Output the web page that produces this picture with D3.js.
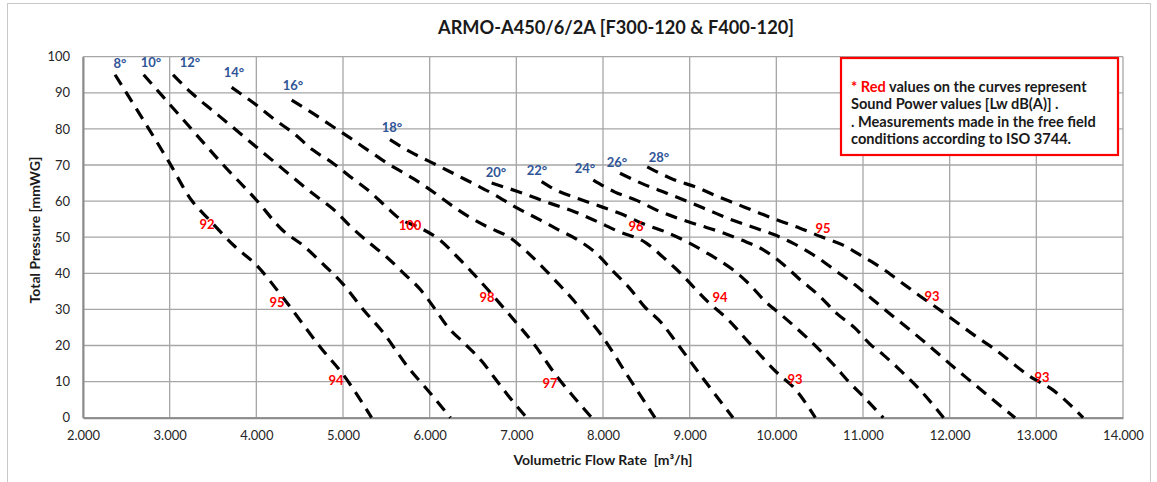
<!DOCTYPE html>
<html><head><meta charset="utf-8">
<script src="https://cdn.jsdelivr.net/npm/d3@7"></script>
<style>
body{margin:0;background:#fff;}
text{font-family:Lato,"Open Sans",sans-serif;}
</style></head>
<body><svg id="c" width="1157" height="482"></svg>
<script>
// ---- data (flow m3/h, pressure mmWG) ----
const angles = ["8°","10°","12°","14°","16°","18°","20°","22°","24°","26°","28°"];
const c08 = [[2370,95],[3000,70.5],[3250,60.3],[3450,55],[3750,47.5],[4000,42.3],[4300,33.5],[4750,19.2],[5000,12],[5330,0]];
const c10 = [[2700,95],[2920,89],[3250,80],[3600,70.5],[4000,60.3],[4300,52],[4550,47.5],[4750,43],[5000,37],[5250,29.5],[5450,24],[5750,14],[6000,7],[6240,0]];
const c12 = [[3040,95],[3250,90],[3500,85],[3700,81],[4000,75],[4300,69],[4500,65],[4700,61.2],[4900,57.5],[5100,52.7],[5300,48.5],[5500,44.6],[5700,40],[5900,35.3],[6050,30.5],[6200,25.4],[6400,20.6],[6600,15.7],[6750,11],[6900,6.3],[7120,0]];
const c14 = [[3715,91.5],[4000,86.6],[4215,82.5],[4430,78.8],[4650,74.2],[4885,70.5],[5080,66.8],[5310,62.6],[5500,58.4],[5650,55.2],[5888,52.6],[6119,49.2],[6300,45],[6500,40],[6670,35.5],[6850,30.5],[7000,26.3],[7200,20.5],[7465,11.5],[7660,5.8],[7870,0]];
const c16 = [[4408,88],[4654,84.3],[4885,80.6],[5081,77.5],[5312,73.7],[5542,70],[5808,66.3],[6038,62.6],[6196,59.8],[6450,55.7],[6681,52.7],[6919,50],[7119,46],[7308,41.6],[7481,37.2],[7658,32.6],[7811,28],[7965,23.4],[8300,11],[8600,0]];
const c18 = [[5542,77],[5773,73.7],[6081,70],[6311,67.2],[6542,64.4],[6754,61.7],[6985,58.4],[7273,54.8],[7481,52.1],[7712,49.2],[7919,45.6],[8115,40.6],[8306,35.9],[8473,30.9],[8677,26.2],[8842,21],[9150,11],[9500,0]];
const c20 = [[6715,65],[7023,62.6],[7400,59.3],[7677,57],[7908,54.6],[8158,51.8],[8504,48.3],[8696,44.4],[8835,41.4],[9215,32],[9450,27],[9658,21.5],[10038,11.8],[10192,8.6],[10450,0]];
const c22 = [[7292,65.4],[7446,63.2],[7735,60.5],[7985,58.4],[8235,56.2],[8465,53.7],[8719,51.5],[8962,48.8],[9200,45.6],[9339,43.6],[9504,40.9],[9696,36.8],[9877,32.1],[10062,28.4],[10665,14.6],[10838,9.9],[11023,5.4],[11233,0]];
const c24 = [[7888,65.8],[8138,62.5],[8388,60.2],[8619,57.5],[8869,55.2],[9100,53.4],[9350,51.5],[9600,49.2],[9850,46.5],[10088,42.3],[10281,38.1],[10485,34],[10696,28.9],[10908,24.8],[11081,20.4],[11235,17.4],[11427,13.2],[11658,7.7],[11930,0]];
const c26 = [[8196,67.7],[8485,64.5],[8735,62.2],[8985,59.8],[9235,57.3],[9465,55],[9715,52.9],[9965,50.8],[10196,48.3],[10485,44.2],[10696,40.5],[10908,36.8],[11119,32.6],[11331,28.4],[11542,24.3],[11754,20.1],[12042,14.1],[12273,9.5],[12504,4.9],[12754,0]];
const c28 = [[8510,69.5],[8812,66],[9081,63.8],[9312,61.4],[9542,59.2],[9792,56.8],[10042,54.5],[10273,52.5],[10520,50.1],[10770,47.8],[11000,44.6],[11220,41.4],[11430,37.7],[11640,34],[11890,29.8],[12100,26.1],[12310,22.4],[12500,19.3],[12930,11.4],[13190,7.7],[13540,0]];
const curves = [c08,c10,c12,c14,c16,c18,c20,c22,c24,c26,c28];
// angle label anchors (flow, pressure)
const angleAnchors = [[2427,98],[2785,98.3],[3235,98.5],[3742,95.5],[4423,91.9],[5565,80.5],[6765,68],[7238,68.6],[7792,68.9],[8161,70.8],[8646,72.2]];
// sound power values and their anchors
const soundValues = ["92","95","94","100","98","97","96","94","93","95","93","93"];
const soundAnchors = [[3431,53.6],[4238,32],[4919,10.2],[5773,53.3],[6662,33.2],[7388,9.6],[8381,53.1],[9350,33.4],[10215,10.5],[10538,52.5],[11796,33.7],[13065,11]];
const xTicks = [2000,3000,4000,5000,6000,7000,8000,9000,10000,11000,12000,13000,14000];
const yTicks = [0,10,20,30,40,50,60,70,80,90,100];
const title = "ARMO-A450/6/2A [F300-120 & F400-120]";
const xTitle = "Volumetric Flow Rate\u00a0\u00a0[m³/h]";
const yTitle = "Total Pressure [mmWG]";
const noteLines = [["* Red"," values on the curves represent"],["","Sound Power values [Lw dB(A)] ."],["",". Measurements made in the free field"],["","conditions according to ISO 3744."]];

// ---- drawing ----
const svg = d3.select("#c");
svg.append("rect").attr("x",7.5).attr("y",3.5).attr("width",1143).attr("height",490).attr("fill","#fff").attr("stroke","#c8c8c8");
const x = d3.scaleLinear().domain([2000,14000]).range([83,1123]);
const y = d3.scaleLinear().domain([0,100]).range([417.7,56.7]);

svg.append("text").attr("x",616).attr("y",34).attr("text-anchor","middle")
  .attr("font-size",18.2).attr("font-weight","bold").attr("fill","#1a1a1a").text(title);

const g = svg.append("g");
// grid
g.selectAll(".gx").data(xTicks).join("line").attr("x1",d=>x(d)).attr("x2",d=>x(d))
  .attr("y1",y(0)).attr("y2",y(100)).attr("stroke","#a6a6a6").attr("stroke-width",1.3);
g.selectAll(".gy").data(yTicks).join("line").attr("y1",d=>y(d)).attr("y2",d=>y(d))
  .attr("x1",x(2000)).attr("x2",x(14000)).attr("stroke","#a6a6a6").attr("stroke-width",1.3);

const xa = g.append("g").attr("transform",`translate(0,${y(0)})`)
  .call(d3.axisBottom(x).tickValues(xTicks).tickFormat(d=>d3.format(".3f")(d/1000)).tickSize(0).tickPadding(13));
const ya = g.append("g").attr("transform",`translate(${x(2000)},0)`)
  .call(d3.axisLeft(y).tickValues(yTicks).tickSize(0).tickPadding(13));
[xa,ya].forEach(a=>{
  a.select(".domain").attr("stroke","#8c8c8c").attr("stroke-width",2);
  a.selectAll("text").attr("font-size",13).attr("fill","#262626").attr("font-family","Lato,'Open Sans',sans-serif");
});

// curves
const line = d3.line().x(d=>x(d[0])).y(d=>y(d[1])).curve(d3.curveMonotoneX);
g.selectAll(".curve").data(curves).join("path").attr("d",line)
  .attr("fill","none").attr("stroke","#000").attr("stroke-width",3.2)
  .attr("stroke-dasharray","12,8");

// angle labels
g.selectAll(".ang").data(angles).join("text")
  .attr("x",(d,i)=>x(angleAnchors[i][0])).attr("y",(d,i)=>y(angleAnchors[i][1])+4.5)
  .attr("text-anchor","middle").attr("font-size",13).attr("font-weight","bold")
  .attr("fill","#2f5597").text(d=>d);

// sound labels
g.selectAll(".snd").data(soundValues).join("text")
  .attr("x",(d,i)=>x(soundAnchors[i][0])).attr("y",(d,i)=>y(soundAnchors[i][1])+4.5)
  .attr("text-anchor","middle").attr("font-size",13).attr("font-weight","bold")
  .attr("fill","#ff0000").text(d=>d);

// axis titles
svg.append("text").attr("x",603).attr("y",465).attr("text-anchor","middle")
  .attr("font-size",14).attr("font-weight","bold").attr("fill","#1a1a1a").text(xTitle);
svg.append("text").attr("transform","translate(40,230) rotate(-90)").attr("text-anchor","middle")
  .attr("font-size",14).attr("font-weight","bold").attr("fill","#1a1a1a").text(yTitle);

// note box
svg.append("rect").attr("x",841).attr("y",58).attr("width",277).attr("height",97)
  .attr("fill","#fff").attr("stroke","#ff0000").attr("stroke-width",2.2);
const nt = svg.append("g");
noteLines.forEach((l,i)=>{
  const t = nt.append("text").attr("x",851).attr("y",92+i*17.4).attr("font-size",14.6).attr("font-weight","bold").attr("fill","#1a1a1a");
  if(l[0]) t.append("tspan").attr("fill","#ff0000").text(l[0]);
  t.append("tspan").text(l[1]);
});
</script></body></html>
